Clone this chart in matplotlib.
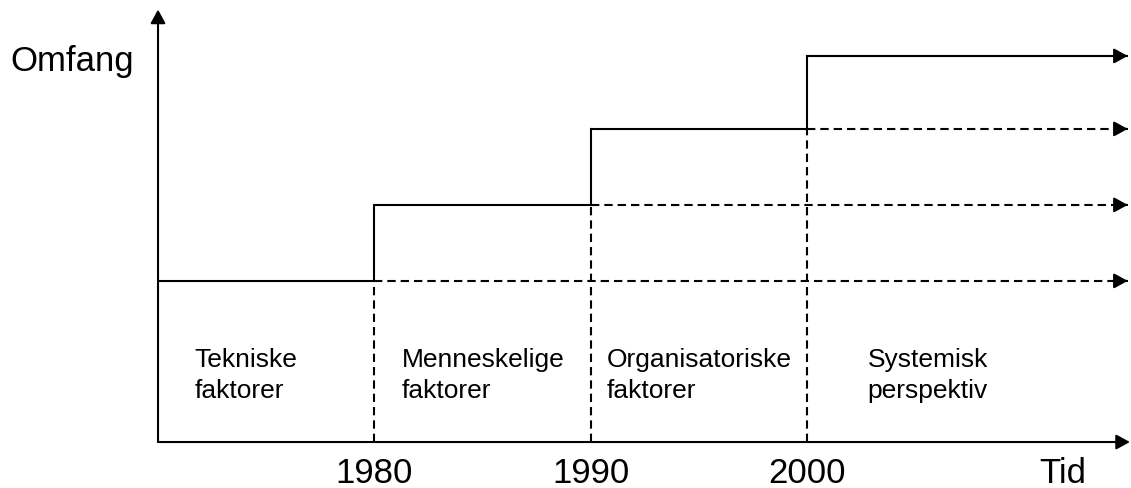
import matplotlib.pyplot as plt

plt.rcParams['font.family'] = ['Liberation Sans', 'DejaVu Sans']

# data
aar = [1970, 1980, 1990, 2000]
niva = [2.12, 3.12, 4.12, 5.08]
slutt_aar = 2014.8
linje1 = ['Tekniske', 'Menneskelige', 'Organisatoriske', 'Systemisk']
linje2 = ['faktorer', 'faktorer', 'faktorer', 'perspektiv']
tekst_x = [1971.7, 1981.25, 1990.72, 2002.77]
aar_etiketter = ['1980', '1990', '2000']

fig = plt.figure(figsize=(11.31, 4.88), dpi=100)
ax = fig.add_axes([0, 0, 1, 1])
ax.set_xlim(1962.7, 2014.95)
ax.set_ylim(-0.605, 5.816)
ax.axis('off')

lw = 1.5
strek = (4, 2.4)
pil = dict(arrowstyle='-|>,head_length=0.55,head_width=0.3', color='black',
           lw=lw, mutation_scale=15, shrinkA=0, shrinkB=0)


def pilhode(x, y):
    ax.annotate('', xy=(x, y), xytext=(x - 0.05, y), arrowprops=pil)


# akser
ax.annotate('', xy=(slutt_aar + 0.1, 0), xytext=(aar[0], 0), arrowprops=pil)
ax.annotate('', xy=(aar[0], 5.69), xytext=(aar[0], 0), arrowprops=pil)

# trapp (heltrukket)
for i in range(len(aar)):
    x_slutt = aar[i + 1] if i + 1 < len(aar) else slutt_aar
    ax.plot([aar[i], x_slutt], [niva[i], niva[i]], color='black', lw=lw,
            solid_capstyle='butt')
    if i > 0:
        ax.plot([aar[i], aar[i]], [niva[i - 1], niva[i]], color='black', lw=lw)
pilhode(slutt_aar, niva[-1])

# stiplede linjer
for i in range(1, len(aar)):
    ax.plot([aar[i], slutt_aar - 0.3], [niva[i - 1], niva[i - 1]], color='black',
            lw=lw, dashes=strek)
    pilhode(slutt_aar, niva[i - 1])
    ax.plot([aar[i], aar[i]], [0, niva[i - 1]], color='black', lw=lw,
            dashes=strek)

# tekster
for x, a, b in zip(tekst_x, linje1, linje2):
    ax.text(x, 0.99, a, fontsize=19, ha='left', va='baseline')
    ax.text(x, 0.575, b, fontsize=19, ha='left', va='baseline')

for x, t in zip(aar[1:], aar_etiketter):
    ax.text(x, -0.54, t, fontsize=25, ha='center', va='baseline')
ax.text(2011.8, -0.54, 'Tid', fontsize=25, ha='center', va='baseline')
ax.text(1963.2, 4.88, 'Omfang', fontsize=25, ha='left', va='baseline')

fig.savefig('out.png', dpi=100)
